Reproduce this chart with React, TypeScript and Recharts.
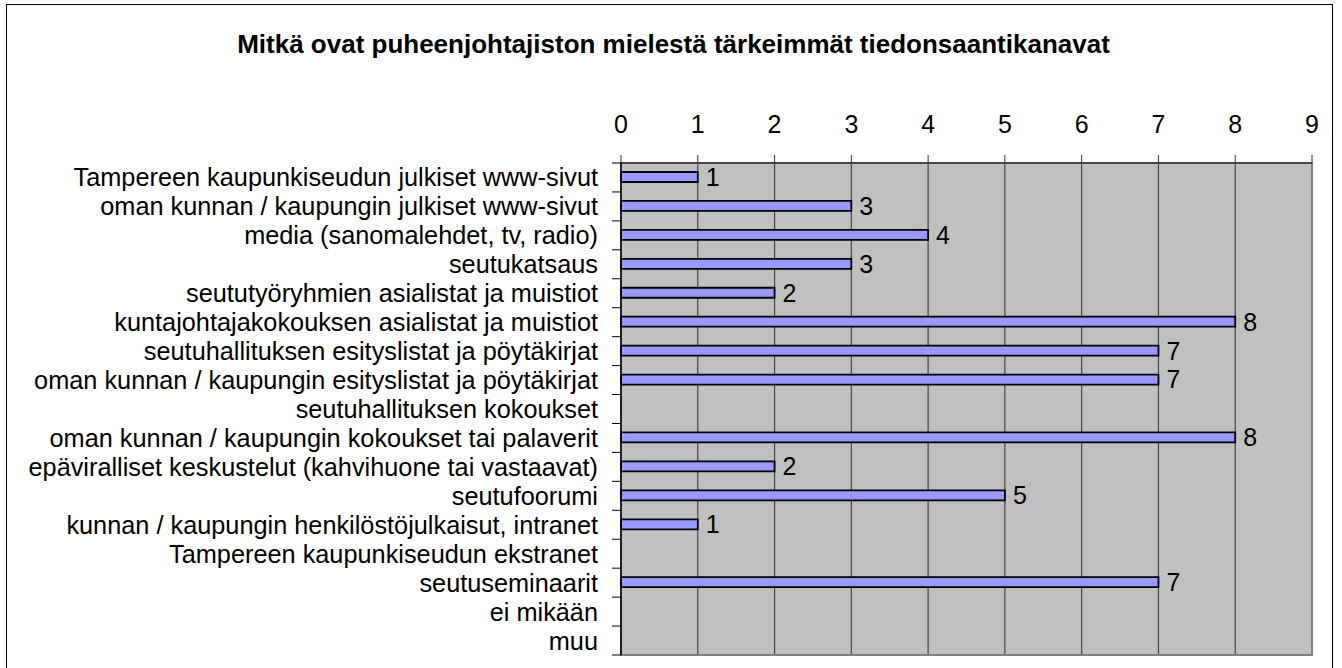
import React from 'react';
import { BarChart, Bar, XAxis, YAxis, CartesianGrid, LabelList, ReferenceArea } from 'recharts';

const title = 'Mitkä ovat puheenjohtajiston mielestä tärkeimmät tiedonsaantikanavat';

const categories = [
  'Tampereen kaupunkiseudun julkiset www-sivut',
  'oman kunnan / kaupungin julkiset www-sivut',
  'media (sanomalehdet, tv, radio)',
  'seutukatsaus',
  'seututyöryhmien asialistat ja muistiot',
  'kuntajohtajakokouksen asialistat ja muistiot',
  'seutuhallituksen esityslistat ja pöytäkirjat',
  'oman kunnan / kaupungin esityslistat ja pöytäkirjat',
  'seutuhallituksen kokoukset',
  'oman kunnan / kaupungin kokoukset tai palaverit',
  'epäviralliset keskustelut (kahvihuone tai vastaavat)',
  'seutufoorumi',
  'kunnan / kaupungin henkilöstöjulkaisut, intranet',
  'Tampereen kaupunkiseudun ekstranet',
  'seutuseminaarit',
  'ei mikään',
  'muu',
];

const values = [1, 3, 4, 3, 2, 8, 7, 7, 0, 8, 2, 5, 1, 0, 7, 0, 0];

const xTicks = [0, 1, 2, 3, 4, 5, 6, 7, 8, 9];

const data = categories.map((name, i) => ({ name, value: values[i] }));

const FONT = '"Liberation Sans", Arial, sans-serif';
const W = 1342;
const H = 668;
const PLOT_TOP = 163;
const PLOT_BOTTOM = 655;
const BAND = (PLOT_BOTTOM - PLOT_TOP) / categories.length;

const CategoryTick = (props: any) => {
  const { x, y, payload, index } = props;
  const axisX = x + 14;
  const top = y - BAND / 2;
  return (
    <g>
      <line x1={axisX - 9} x2={axisX} y1={top} y2={top} stroke="#000" strokeWidth={1} />
      {index === categories.length - 1 && (
        <line x1={axisX - 9} x2={axisX} y1={y + BAND / 2} y2={y + BAND / 2} stroke="#000" strokeWidth={1} />
      )}
      <text
        x={x - 9}
        y={y + 9}
        textAnchor="end"
        fontSize={25.3}
        fontFamily={FONT}
        fill="#000"
      >
        {payload.value}
      </text>
    </g>
  );
};

export default function App() {
  return (
    <div style={{ position: 'absolute', left: 0, top: 0, width: W, height: H, background: '#fff', overflow: 'hidden' }}>
      <BarChart
        width={W}
        height={H}
        data={data}
        layout="vertical"
        margin={{ top: 0, right: W - 1312, bottom: H - PLOT_BOTTOM, left: 0 }}
        barCategoryGap={0}
      >
        <CartesianGrid horizontal={false} vertical={true} stroke="#444" strokeWidth={1.2} fill="#C0C0C0" fillOpacity={1} />
        <ReferenceArea x1={0} x2={9} fill="none" stroke="#808080" strokeWidth={2} ifOverflow="visible" />
        <XAxis
          type="number"
          orientation="top"
          height={PLOT_TOP}
          domain={[0, 9]}
          ticks={xTicks}
          interval={0}
          allowDecimals={false}
          tickSize={8}
          tickMargin={22}
          axisLine={{ stroke: '#333', strokeWidth: 1.5 }}
          tickLine={{ stroke: '#333', strokeWidth: 1 }}
          tick={{ fontSize: 25, fontFamily: FONT, fill: '#000' }}
        />
        <YAxis
          type="category"
          dataKey="name"
          width={621}
          interval={0}
          tickSize={9}
          tickMargin={5}
          tickLine={false}
          axisLine={{ stroke: '#000', strokeWidth: 1.5 }}
          tick={<CategoryTick />}
        />
        <Bar dataKey="value" fill="#9999FF" stroke="#000" strokeWidth={1.8} barSize={10} isAnimationActive={false}>
          <LabelList
            dataKey="value"
            position="right"
            offset={8}
            formatter={(v: any) => (v === 0 ? '' : v)}
            style={{ fontSize: 25, fontFamily: FONT, fill: '#000' }}
          />
        </Bar>
      </BarChart>
      <svg width={W} height={H} style={{ position: 'absolute', left: 0, top: 0, pointerEvents: 'none' }}>
        <rect x={6.5} y={4.5} width={1326} height={700} fill="none" stroke="#000" strokeWidth={1} />
        <text x={673.5} y={53} textAnchor="middle" fontSize={26} fontWeight="bold" fontFamily={FONT} fill="#000">
          {title}
        </text>
      </svg>
    </div>
  );
}
